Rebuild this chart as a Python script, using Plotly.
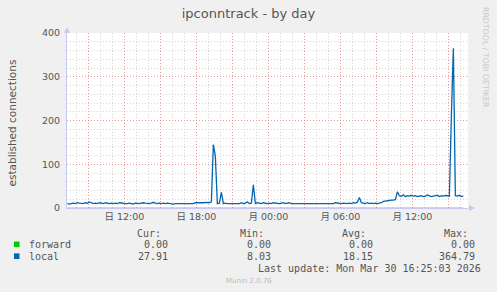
import numpy as np
import plotly.graph_objects as go

# ---- data ----
# time axis in hours since Sunday 00:00 (日 00:00); 10-minute steps
start_hour = 7.25
step = 1 / 6
local_values = [
    10, 9, 10, 11, 10,            # 07h
    12, 11, 10, 10, 12, 11,       # 08h
    14, 11, 10, 11, 10, 12,       # 09h
    11, 10, 12, 11, 10, 11,       # 10h
    10, 11, 10, 12, 11, 10,       # 11h
    10, 10, 11, 10, 9, 11,        # 12h
    10, 10, 11, 12, 11, 10,       # 13h
    10, 11, 13, 11, 10, 11,       # 14h
    10, 11, 10, 11, 10, 10,       # 15h
    9, 10, 10, 10, 11, 10,        # 16h
    10, 10, 11, 10, 10, 12,       # 17h
    12, 12, 11, 12, 13, 12,       # 18h
    12, 14, 145, 118, 10, 11,     # 19h
    36, 10, 11, 10, 10, 11,       # 20h
    10, 11, 10, 10, 12, 10,       # 21h
    11, 14, 10, 11, 53, 10,       # 22h
    12, 11, 10, 12, 11, 10,       # 23h
    11, 10, 12, 11, 10, 10,       # 00h
    11, 12, 10, 11, 12, 10,       # 01h
    10, 11, 10, 10, 11, 10,       # 02h
    10, 10, 11, 10, 10, 11,       # 03h
    11, 10, 10, 11, 10, 10,       # 04h
    10, 11, 10, 12, 11, 10,       # 05h
    10, 11, 10, 10, 11, 10,       # 06h
    12, 11, 13, 24, 12, 11,       # 07h
    10, 12, 10, 11, 10, 11,       # 08h
    10, 11, 12, 15, 16, 17,       # 09h
    17, 18, 18, 19, 37, 28,       # 10h
    27, 30, 26, 28, 27, 29,       # 11h
    27, 28, 26, 27, 28, 26,       # 12h
    27, 30, 27, 26, 27, 28,       # 13h
    29, 26, 28, 27, 29, 28,       # 14h
    27, 210, 365, 28, 27, 29,     # 15h
    26, 28,                       # 16h
]
forward_values = [0] * len(local_values)
hours = start_hour + step * np.arange(len(local_values))

x_tickvals = [9, 12, 15, 18, 21, 24, 27, 30, 33, 36, 39]
x_ticktext = ["", "日 12:00", "", "日 18:00", "", "月 00:00", "", "月 06:00", "", "月 12:00", ""]
y_tickvals = [0, 100, 200, 300, 400]

series_names = ["forward", "local"]
series_colors = ["#00CC00", "#0066B3"]
stat_headers = ["Cur:", "Min:", "Avg:", "Max:"]
stats = {
    "forward": ["0.00", "0.00", "0.00", "0.00"],
    "local": ["27.91", "8.03", "18.15", "364.79"],
}
title = "ipconntrack - by day"
y_title = "established connections"
last_update = "Last update: Mon Mar 30 16:25:03 2026"
footer = "Munin 2.0.76"
side_text = "RRDTOOL / TOBI OETIKER"

# ---- layout geometry (pixels) ----
W, H = 497, 292
PL, PR, PT, PB = 67, 468, 33, 208


def px(xp):
    return (xp - PL) / (PR - PL)


def py(yp):
    return (PB - yp) / (PB - PT)


FONT = "DejaVu Sans, Noto Sans CJK JP, sans-serif"
MONO = "DejaVu Sans Mono, monospace"

fig = go.Figure()
fig.add_trace(go.Scatter(x=hours, y=forward_values, mode="lines",
                         line=dict(color=series_colors[0], width=1), opacity=0.6,
                         hoverinfo="skip"))
fig.add_trace(go.Scatter(x=hours, y=local_values, mode="lines",
                         line=dict(color=series_colors[1], width=1.3), hoverinfo="skip"))

grid_major = "rgba(240,130,130,0.7)"
grid_minor = "rgba(200,200,200,0.75)"

fig.update_layout(
    width=W, height=H,
    margin=dict(l=PL, r=W - PR, t=PT, b=H - PB),
    paper_bgcolor="#F0F0F0", plot_bgcolor="#FFFFFF",
    showlegend=False,
    font=dict(family=FONT, size=9, color="#555555"),
    title=dict(text=title, x=0.5, xanchor="center", y=1 - 13.5 / H, yanchor="middle",
               font=dict(family=FONT, size=13, color="#555555")),
    xaxis=dict(range=[7.22, 7.22 + (PR - PL) / 12], tickvals=x_tickvals, ticktext=x_ticktext,
               showgrid=True, gridcolor=grid_major, griddash="1px,2px", gridwidth=1,
               minor=dict(dtick=1, tick0=0, showgrid=True, gridcolor=grid_minor,
                          griddash="1px,2px", gridwidth=1),
               ticks="", showline=True, linecolor="#C8C8F0", linewidth=1,
               layer="below traces", zeroline=False,
               tickfont=dict(family=FONT, size=9.5, color="#555555")),
    yaxis=dict(range=[0, 400], tickvals=y_tickvals,
               showgrid=True, gridcolor=grid_major, griddash="1px,2px", gridwidth=1,
               minor=dict(dtick=20, tick0=0, showgrid=True, gridcolor=grid_minor,
                          griddash="1px,2px", gridwidth=1),
               ticks="", showline=True, linecolor="#C8C8F0", linewidth=1,
               layer="below traces", zeroline=False, ticklabelstandoff=4,
               tickfont=dict(family=FONT, size=9.5, color="#555555")),
)

shapes = []
# axis arrows
shapes.append(dict(type="path", xref="paper", yref="paper",
                   path=f"M {px(64)} {py(33)} L {px(70)} {py(33)} L {px(67)} {py(27)} Z",
                   fillcolor="#C8C8F0", line=dict(width=0)))
shapes.append(dict(type="path", xref="paper", yref="paper",
                   path=f"M {px(469)} {py(205)} L {px(469)} {py(211)} L {px(475)} {py(208)} Z",
                   fillcolor="#C8C8F0", line=dict(width=0)))

annotations = []
# y axis title
annotations.append(dict(text=y_title, xref="paper", yref="paper", x=px(11.5), y=py(123),
                        showarrow=False, textangle=-90, xanchor="center", yanchor="middle",
                        font=dict(family=FONT, size=10.5, color="#555555")))
# side text
annotations.append(dict(text=side_text, xref="paper", yref="paper", x=px(486), y=py(57),
                        showarrow=False, textangle=90, xanchor="center", yanchor="middle",
                        font=dict(family=FONT, size=7.8, color="#C8C8C8")))
# stats header
header_right = [162.7, 265.7, 367.7, 470]
value_right = [169.5, 272.7, 374.7, 476.7]
for hdr, xr in zip(stat_headers, header_right):
    annotations.append(dict(text=hdr, xref="paper", yref="paper", x=px(xr), y=py(233.3),
                            showarrow=False, xanchor="right", yanchor="middle",
                            font=dict(family=MONO, size=10, color="#555555")))
row_y = [244.3, 256.2]
for name, color, yy in zip(series_names, series_colors, row_y):
    shapes.append(dict(type="rect", xref="paper", yref="paper",
                       x0=px(14), x1=px(19.5), y0=py(yy - 2.8), y1=py(yy + 2.8),
                       fillcolor=color, line=dict(width=0)))
    annotations.append(dict(text=name, xref="paper", yref="paper", x=px(26.5), y=py(yy),
                            showarrow=False, xanchor="left", yanchor="middle",
                            font=dict(family=MONO, size=10, color="#555555")))
    for val, xr in zip(stats[name], value_right):
        annotations.append(dict(text=val, xref="paper", yref="paper", x=px(xr), y=py(yy),
                                showarrow=False, xanchor="right", yanchor="middle",
                                font=dict(family=MONO, size=10, color="#555555")))
annotations.append(dict(text=last_update, xref="paper", yref="paper", x=px(482.5), y=py(268.8),
                        showarrow=False, xanchor="right", yanchor="middle",
                        font=dict(family=MONO, size=10, color="#555555")))
annotations.append(dict(text=footer, xref="paper", yref="paper", x=px(248.7), y=py(281.3),
                        showarrow=False, xanchor="center", yanchor="middle",
                        font=dict(family=FONT, size=7, color="#BBBBBB")))

fig.update_layout(shapes=shapes, annotations=annotations)
fig.write_html("out.html")
